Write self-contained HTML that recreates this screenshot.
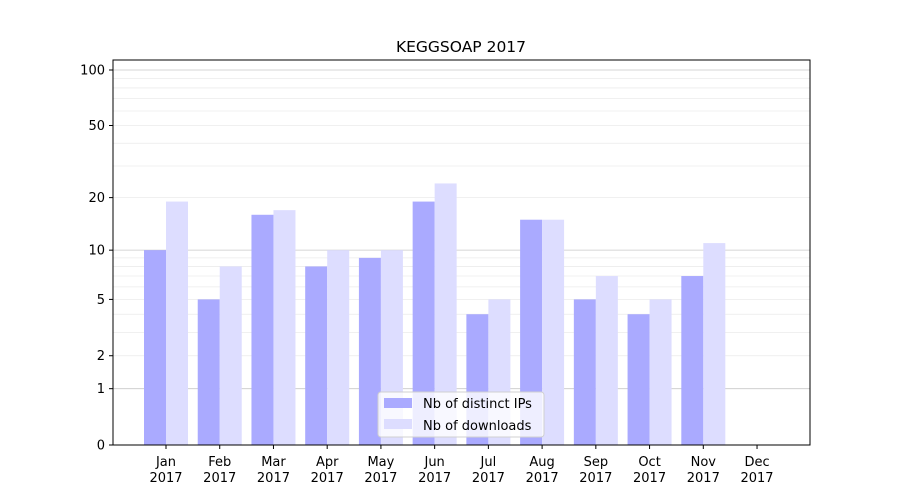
<!DOCTYPE html>
<html><head><style>body{margin:0;background:#fff}svg{display:block}text{font-family:"DejaVu Sans","Liberation Sans",sans-serif;font-size:13px;fill:#000}</style></head>
<body>
<svg id="s" width="900" height="500" xmlns="http://www.w3.org/2000/svg"></svg>
<script>
const s=document.getElementById('s');
const Y=v=>445-187.1*Math.log10(1+v);
let h='';
const grid=[2,3,4,5,6,7,8,9,20,30,40,50,60,70,80,90];
grid.forEach(v=>h+=`<line x1="113" x2="810" y1="${Y(v)}" y2="${Y(v)}" stroke="#ebebeb" stroke-width="0.8"/>`);
[1,10,100].forEach(v=>h+=`<line x1="113" x2="810" y1="${Y(v)}" y2="${Y(v)}" stroke="#c8c8c8" stroke-width="0.8"/>`);
const ips=[10,5,16,8,9,19,4,15,5,4,7,0],dl=[19,8,17,10,10,24,5,15,7,5,11,0];
const m=['Jan','Feb','Mar','Apr','May','Jun','Jul','Aug','Sep','Oct','Nov','Dec'];
for(let i=0;i<12;i++){const c=166+i*53.73;
if(ips[i])h+=`<rect x="${c-22}" y="${Y(ips[i])}" width="22" height="${445-Y(ips[i])}" fill="#aaaaff"/>`;
if(dl[i])h+=`<rect x="${c}" y="${Y(dl[i])}" width="22" height="${445-Y(dl[i])}" fill="#ddddff"/>`;
h+=`<line x1="${c}" x2="${c}" y1="445" y2="449" stroke="#000"/><text x="${c}" y="466" text-anchor="middle">${m[i]}</text><text x="${c}" y="482" text-anchor="middle">2017</text>`;}
[0,1,2,5,10,20,50,100].forEach(v=>h+=`<line x1="109" x2="113" y1="${Y(v)}" y2="${Y(v)}" stroke="#000"/><text x="105" y="${Y(v)+4.5}" text-anchor="end">${v}</text>`);
h+=`<rect x="113" y="60" width="697" height="385" fill="none" stroke="#000"/>`;
h+=`<text x="461" y="52" text-anchor="middle" style="font-size:15.5px">KEGGSOAP 2017</text>`;
h+=`<rect x="378" y="392" width="166" height="45" rx="3" fill="#fff" fill-opacity="0.8" stroke="#d0d0d0"/>`;
h+=`<rect x="384" y="398" width="28" height="10" fill="#aaaaff"/><text x="423" y="408">Nb of distinct IPs</text>`;
h+=`<rect x="384" y="419" width="28" height="10" fill="#ddddff"/><text x="423" y="430">Nb of downloads</text>`;
s.innerHTML=h;
</script>
</body></html>
